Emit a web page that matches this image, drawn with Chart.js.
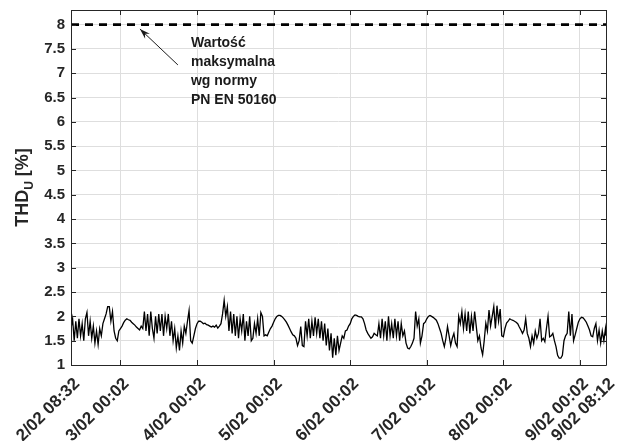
<!DOCTYPE html>
<html>
<head>
<meta charset="utf-8">
<script src="https://cdn.jsdelivr.net/npm/chart.js@4/dist/chart.umd.min.js"></script>
<style>
	body { margin: 0; background: #fff; }
	canvas { display: block; }
</style>
</head>
<body>
<canvas id="out" width="622" height="441"></canvas>
<script>
// pomiar THD napiecia, co 30 min od 2/02 08:32
const stepHours = 0.5;
const thdValues = [
	1.75,1.95,1.5,1.9,1.55,1.95,1.6,1.85,1.5,1.95,2.08,1.6,1.9,1.55,1.8,1.45,1.7,1.42,1.75,1.6,1.85,1.95,2.05,2.2,
	2.2,1.9,2.1,1.7,1.55,1.5,1.7,1.75,1.8,1.87,1.92,1.95,1.93,1.92,1.88,1.85,1.82,1.78,1.75,1.72,1.8,1.75,2.1,1.7,
	2.05,1.6,2.1,1.75,1.55,2.0,1.65,2.05,1.7,2.05,1.6,2.0,1.75,2.05,1.6,1.9,1.5,1.75,1.35,1.6,1.3,1.7,1.45,1.8,
	1.65,1.9,2.12,1.5,1.45,1.6,1.75,1.85,1.9,1.9,1.88,1.85,1.86,1.83,1.82,1.8,1.78,1.8,1.78,1.82,1.76,1.8,1.85,2.05,
	2.33,2.0,2.2,1.7,2.1,1.65,2.05,1.6,2.0,1.55,1.95,1.7,2.05,1.5,1.9,1.6,2.0,1.5,1.55,1.85,1.65,1.95,1.6,2.08,
	2.0,1.6,1.62,1.6,1.68,1.75,1.8,1.88,1.95,2.0,2.02,2.02,2.0,1.97,1.93,1.88,1.82,1.75,1.68,1.62,1.6,1.55,1.4,1.5,
	1.79,1.4,1.38,1.9,1.6,1.95,1.55,1.9,1.6,1.98,1.65,1.95,1.55,1.9,1.5,1.85,1.4,1.75,1.3,1.65,1.15,1.55,1.2,1.6,
	1.3,1.45,1.6,1.55,1.7,1.72,1.8,1.85,1.95,2.0,2.03,2.02,2.0,1.99,1.99,1.95,1.85,1.72,1.65,1.6,1.55,1.58,1.65,1.62,
	1.6,1.85,1.55,1.95,1.6,1.9,1.5,2.0,1.6,1.85,1.55,1.95,1.6,1.9,1.5,1.85,1.6,1.7,1.45,1.35,1.33,1.38,1.45,1.55,
	2.1,1.8,1.95,1.45,1.6,1.85,1.88,1.95,2.0,2.02,2.0,1.98,1.95,1.92,1.85,1.75,1.65,1.5,1.38,1.55,1.79,1.6,1.4,1.55,
	1.65,1.45,1.38,2.0,1.85,2.1,1.75,2.05,1.7,2.1,1.65,2.0,1.7,2.1,1.8,1.5,1.6,1.35,1.21,1.5,1.86,1.7,2.13,1.8,
	2.0,2.2,1.75,2.22,1.9,2.15,1.6,1.58,1.75,1.86,1.9,1.95,1.93,1.92,1.9,1.88,1.85,1.78,1.72,1.65,1.72,1.95,1.65,1.55,
	1.38,1.6,1.45,1.7,1.55,1.65,1.95,1.5,1.55,1.48,1.75,2.0,1.58,1.6,1.65,1.5,1.38,1.2,1.14,1.14,1.2,1.5,1.6,1.65,
	2.1,1.6,2.05,1.5,1.62,1.75,1.88,1.95,1.98,1.97,1.93,1.88,1.8,1.72,1.6,1.58,1.75,1.85,1.5,1.72,1.45,1.7,1.5,1.75
];
const lastHour = 167.667;
const lastValue = 1.6;

const limitValue = 8;
const tickHours = [0, 15.5, 39.5, 63.5, 87.5, 111.5, 135.5, 159.5, 167.667];
const tickLabels = ["2/02 08:32", "3/02 00:02", "4/02 00:02", "5/02 00:02", "6/02 00:02", "7/02 00:02", "8/02 00:02", "9/02 00:02", "9/02 08:12"];
const yTicks = [1, 1.5, 2, 2.5, 3, 3.5, 4, 4.5, 5, 5.5, 6, 6.5, 7, 7.5, 8];
const noteLines = ["Wartość", "maksymalna", "wg normy", "PN EN 50160"];

const points = thdValues.map((v, i) => ({ x: i * stepHours, y: v }));
points.push({ x: lastHour, y: lastValue });

const axisColor = "#262626";
const fontFamily = "'Liberation Sans', Arial, sans-serif";

// labels may stick out, the plot area stays fixed
function noScalePadding(scale) {
	scale.paddingLeft = 0;
	scale.paddingRight = 0;
	scale.paddingTop = 0;
	scale.paddingBottom = 0;
}

const matlabBox = {
	id: "matlabBox",
	afterDraw(chart) {
		const ctx = chart.ctx;
		const a = chart.chartArea;
		const xs = chart.scales.x;
		const ys = chart.scales.y;
		ctx.save();
		ctx.strokeStyle = axisColor;
		ctx.lineWidth = 1;
		ctx.beginPath();
		ctx.moveTo(a.left + 0.5, a.bottom + 0.5);
		ctx.lineTo(a.left + 0.5, a.top + 0.5);
		ctx.lineTo(a.right + 0.5, a.top + 0.5);
		ctx.lineTo(a.right + 0.5, a.bottom + 0.5);
		ctx.lineTo(a.left + 0.5, a.bottom + 0.5);
		// ticks pointing inwards
		tickHours.forEach(h => {
			const px = Math.round(xs.getPixelForValue(h)) + 0.5;
			ctx.moveTo(px, a.bottom);
			ctx.lineTo(px, a.bottom - 5);
			ctx.moveTo(px, a.top);
			ctx.lineTo(px, a.top + 5);
		});
		yTicks.forEach(v => {
			const py = Math.round(ys.getPixelForValue(v)) + 0.5;
			ctx.moveTo(a.left, py);
			ctx.lineTo(a.left + 5, py);
			ctx.moveTo(a.right, py);
			ctx.lineTo(a.right - 5, py);
		});
		ctx.stroke();

		// y axis title with subscript
		ctx.translate(22, (a.top + a.bottom) / 2);
		ctx.rotate(-Math.PI / 2);
		ctx.fillStyle = axisColor;
		ctx.textBaseline = "alphabetic";
		const big = "bold 18px " + fontFamily;
		const small = "bold 12px " + fontFamily;
		ctx.font = big;
		const w1 = ctx.measureText("THD").width;
		const w3 = ctx.measureText(" [%]").width;
		ctx.font = small;
		const w2 = ctx.measureText("U").width;
		let x = -(w1 + w2 + w3) / 2;
		ctx.font = big;
		ctx.fillText("THD", x, 6);
		x += w1;
		ctx.font = small;
		ctx.fillText("U", x, 11);
		x += w2;
		ctx.font = big;
		ctx.fillText(" [%]", x, 6);
		ctx.restore();

		// annotation
		ctx.save();
		const tipX = xs.getPixelForValue(21.6), tipY = ys.getPixelForValue(7.91);
		const tailX = xs.getPixelForValue(33.5), tailY = ys.getPixelForValue(7.17);
		ctx.strokeStyle = "#1a1a1a";
		ctx.fillStyle = "#1a1a1a";
		ctx.lineWidth = 1;
		ctx.beginPath();
		ctx.moveTo(tailX, tailY);
		ctx.lineTo(tipX, tipY);
		ctx.stroke();
		const ang = Math.atan2(tipY - tailY, tipX - tailX);
		ctx.beginPath();
		ctx.moveTo(tipX, tipY);
		ctx.lineTo(tipX - 11 * Math.cos(ang - 0.32), tipY - 11 * Math.sin(ang - 0.32));
		ctx.lineTo(tipX - 7 * Math.cos(ang), tipY - 7 * Math.sin(ang));
		ctx.lineTo(tipX - 11 * Math.cos(ang + 0.32), tipY - 11 * Math.sin(ang + 0.32));
		ctx.closePath();
		ctx.fill();
		ctx.font = "bold 14px " + fontFamily;
		ctx.textBaseline = "middle";
		const textX = xs.getPixelForValue(37.6);
		const textY = ys.getPixelForValue(7.62);
		noteLines.forEach((line, i) => {
			ctx.fillText(line, textX, textY + i * 19);
		});
		ctx.restore();
	}
};

const chartConfig = {
	type: "line",
	data: {
		datasets: [
			{
				label: "THD U",
				data: points,
				borderColor: "#000",
				borderWidth: 1.3,
				pointRadius: 0,
				tension: 0
			}, {
				label: "limit",
				data: [{ x: 0, y: limitValue }, { x: lastHour, y: limitValue }],
				borderColor: "#000",
				borderWidth: 2.8,
				borderDash: [8, 6],
				pointRadius: 0
			}
		]
	},
	options: {
		responsive: false,
		animation: false,
		layout: { padding: { top: 10, right: 16, left: 0, bottom: 0 } },
		plugins: {
			legend: { display: false },
			tooltip: { enabled: false }
		},
		scales: {
			x: {
				type: "linear",
				min: 0,
				max: lastHour,
				afterBuildTicks: scale => { scale.ticks = tickHours.map(v => ({ value: v })); },
				afterFit: scale => { scale.height = 76; noScalePadding(scale); },
				grid: { color: "#dedede", drawTicks: false },
				border: { display: false },
				ticks: {
					autoSkip: false,
					maxRotation: 45,
					minRotation: 45,
					padding: 9,
					labelOffset: 6,
					color: axisColor,
					font: { family: fontFamily, size: 17, weight: "bold" },
					callback: (value, index) => tickLabels[index]
				}
			},
			y: {
				min: 1,
				max: 8.3,
				afterBuildTicks: scale => { scale.ticks = yTicks.map(v => ({ value: v })); },
				afterFit: scale => { scale.width = 71; noScalePadding(scale); },
				grid: { color: "#dedede", drawTicks: false },
				border: { display: false },
				ticks: {
					padding: 6,
					color: axisColor,
					font: { family: fontFamily, size: 15, weight: "bold" },
					callback: value => String(value)
				}
			}
		}
	},
	plugins: [matlabBox]
};

window.chart = new Chart(document.getElementById("out").getContext("2d"), chartConfig);
</script>
</body>
</html>
